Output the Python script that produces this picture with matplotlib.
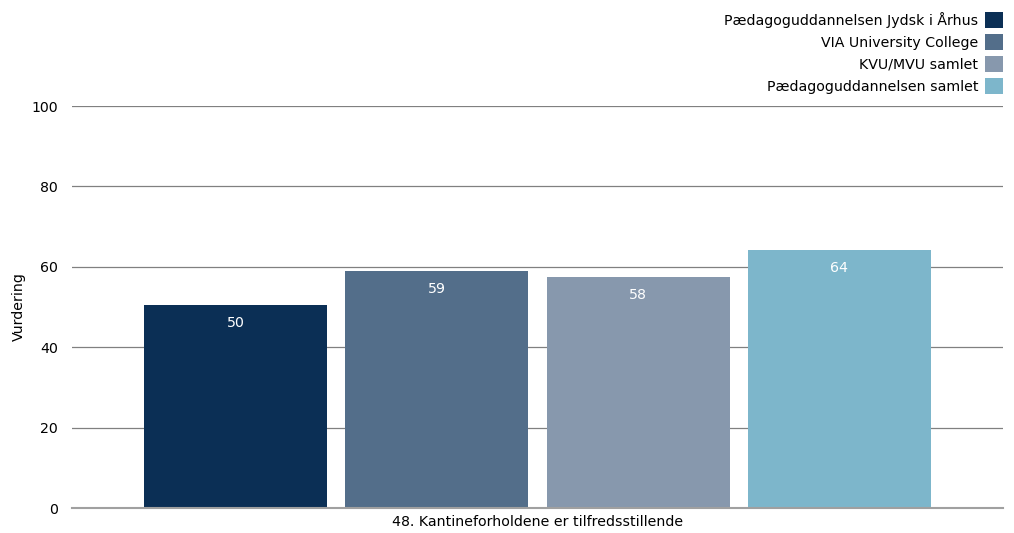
import matplotlib
matplotlib.use("Agg")
import matplotlib.pyplot as plt
from matplotlib.patches import Patch
import numpy as np

category = "48. Kantineforholdene er tilfredsstillende"
series = ["Pædagoguddannelsen Jydsk i Århus", "VIA University College",
          "KVU/MVU samlet", "Pædagoguddannelsen samlet"]
values = [50.5, 59.0, 57.5, 64.2]
labels = ["50", "59", "58", "64"]
colors = ["#0b2f55", "#536e8a", "#8798ad", "#7db6cb"]
yticks = [0, 20, 40, 60, 80, 100]

plt.rcParams['font.family'] = ['DejaVu Sans']
FS = 10.2

fig = plt.figure(figsize=(10.14, 5.33), dpi=100)
ax = fig.add_axes([72/1014, 25/533, (1003-72)/1014, (508-106)/533])

step = 201.3/931
width = 183/931
offsets = (np.arange(len(series)) - 1.5) * step
for off, v, lab, c in zip(offsets, values, labels, colors):
    ax.bar(off, v, width=width, color=c, zorder=3)
    ax.text(off, v - 4.5, lab, ha='center', va='center', color='white', fontsize=FS, zorder=4)

ax.set_xlim(-0.5, 0.5)
ax.set_ylim(0, 100)
ax.set_yticks(yticks)
ax.set_xticks([0])
ax.set_xticklabels([category], fontsize=FS)
ax.tick_params(axis='y', length=0, labelsize=FS, pad=10)
ax.tick_params(axis='x', length=0, labelsize=FS, pad=5)
ax.yaxis.grid(True, color='#808080', linewidth=0.9, zorder=0)
for s in ['top', 'right', 'left']:
    ax.spines[s].set_visible(False)
ax.spines['bottom'].set_color('#a0a0a0')
ax.spines['bottom'].set_linewidth(1.5)
ax.spines['bottom'].set_zorder(5)
ax.set_ylabel("Vurdering", fontsize=FS, labelpad=4)

handles = [Patch(facecolor=c, label=s) for s, c in zip(series, colors)]
leg = fig.legend(handles=handles, loc='upper right', bbox_to_anchor=(1013/1014, 1 - 2/533),
                 frameon=False, fontsize=FS, markerfirst=False, handlelength=1.3,
                 handleheight=1.4, handletextpad=0.45, labelspacing=0.4, borderpad=0.2)
for t in leg.get_texts():
    t.set_ha('right')

fig.savefig("out.png", dpi=100)
